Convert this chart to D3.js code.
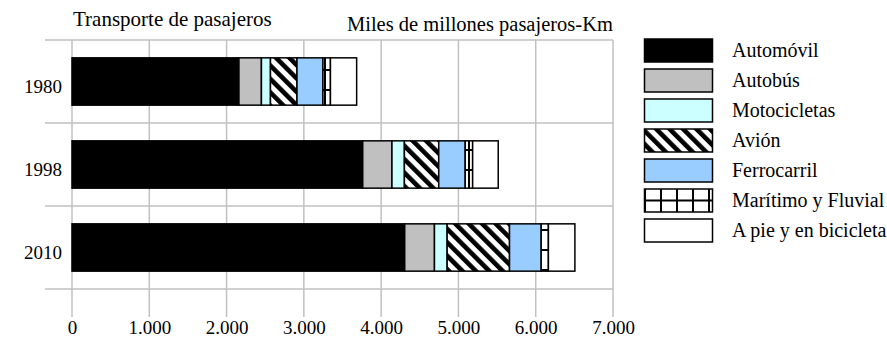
<!DOCTYPE html>
<html>
<head>
<meta charset="utf-8">
<script src="https://cdn.jsdelivr.net/npm/d3@7"></script>
<style>
  html, body { margin: 0; padding: 0; background: #fff; }
  svg { display: block; }
  text { font-family: "Liberation Serif", "Times New Roman", serif; fill: #000; }
</style>
</head>
<body>
<div id="chart"></div>
<script>
// ---- data ----
const years = ["1980", "1998", "2010"];
const seriesNames = ["Automóvil", "Autobús", "Motocicletas", "Avión", "Ferrocarril", "Marítimo y Fluvial", "A pie y en bicicleta"];
const automovil = [2160, 3762, 4305];
const autobus   = [291, 378, 385];
const motos     = [117, 161, 164];
const avion     = [343, 444, 807];
const ferro     = [336, 343, 410];
const maritimo  = [97, 96, 93];
const apie      = [339, 331, 343];
const xTicks = [0, 1000, 2000, 3000, 4000, 5000, 6000, 7000];
const title = "Transporte de pasajeros";
const unitLabel = "Miles de millones pasajeros-Km";

const seriesValues = [automovil, autobus, motos, avion, ferro, maritimo, apie];
const fills = ["#000000", "#c0c0c0", "#ccffff", "url(#pAvion)", "#99ccff", "url(#pMar)", "#ffffff"];

const W = 887, H = 341;
const svg = d3.select("#chart").append("svg").attr("width", W).attr("height", H);

// patterns
const defs = svg.append("defs");
const pa = defs.append("pattern").attr("id", "pAvion").attr("patternUnits", "userSpaceOnUse")
  .attr("width", 9.5).attr("height", 9.5).attr("patternTransform", "rotate(-45)");
pa.append("rect").attr("width", 9.5).attr("height", 9.5).attr("fill", "#fff");
pa.append("rect").attr("width", 4.6).attr("height", 9.5).attr("fill", "#000");

const pm = defs.append("pattern").attr("id", "pMar").attr("patternUnits", "userSpaceOnUse")
  .attr("width", 16).attr("height", 20);
pm.append("rect").attr("width", 16).attr("height", 20).attr("fill", "#fff");
pm.append("rect").attr("x", 4).attr("y", 0).attr("width", 2).attr("height", 20).attr("fill", "#000");
pm.append("rect").attr("x", 0).attr("y", 9).attr("width", 16).attr("height", 2).attr("fill", "#000");

const pml = defs.append("pattern").attr("id", "pMarLeg").attr("patternUnits", "userSpaceOnUse")
  .attr("width", 16).attr("height", 30);
pml.append("rect").attr("width", 16).attr("height", 30).attr("fill", "#fff");
pml.append("rect").attr("x", 4).attr("y", 0).attr("width", 2).attr("height", 30).attr("fill", "#000");
pml.append("rect").attr("x", 0).attr("y", 19.5).attr("width", 16).attr("height", 2).attr("fill", "#000");

// scales
const x = d3.scaleLinear().domain([0, 7000]).range([72, 613]);
const y = d3.scaleBand().domain(years).range([40, 289]).paddingInner(0.43).paddingOuter(0.215);
const loc = d3.formatLocale({decimal: ",", thousands: ".", grouping: [3], currency: ["", "€"]});
const fmt = loc.format(",d");

// gridlines
const grid = svg.append("g");
xTicks.forEach(t => {
  grid.append("line").attr("x1", x(t)).attr("x2", x(t)).attr("y1", 40).attr("y2", 317)
    .attr("stroke", "#c0c0c0").attr("stroke-width", 1.5);
});
const bounds = years.map(yr => y(yr) - y.step() * y.paddingInner() / 2).concat([289]);
bounds.forEach(b => {
  grid.append("line").attr("x1", 45).attr("x2", x(7000)).attr("y1", b).attr("y2", b)
    .attr("stroke", "#c0c0c0").attr("stroke-width", 1.5);
});

// x axis labels (via d3 axis)
const xAxis = svg.append("g").attr("transform", "translate(0,289)")
  .call(d3.axisBottom(x).tickValues(xTicks).tickFormat(fmt).tickSize(0).tickPadding(32));
xAxis.select(".domain").remove();
xAxis.selectAll("text").style("font-family", "Liberation Serif").style("font-size", "19px").attr("fill", "#000");

// y axis labels
const yAxis = svg.append("g").attr("transform", "translate(62,0)")
  .call(d3.axisLeft(y).tickSize(0).tickPadding(0));
yAxis.select(".domain").remove();
yAxis.selectAll("text").style("font-family", "Liberation Serif").style("font-size", "19px").attr("fill", "#000").attr("dy", "0.6em");

// stacked bars
const table = years.map((yr, i) => {
  const o = {year: yr};
  seriesNames.forEach((s, j) => o[s] = seriesValues[j][i]);
  return o;
});
const stacked = d3.stack().keys(seriesNames)(table);
stacked.forEach((layer, j) => {
  svg.append("g").selectAll("rect").data(layer).join("rect")
    .attr("x", d => x(d[0]))
    .attr("width", d => x(d[1]) - x(d[0]))
    .attr("y", d => y(d.data.year))
    .attr("height", y.bandwidth())
    .attr("fill", fills[j])
    .attr("stroke", "#000").attr("stroke-width", 1.5);
});

// titles
svg.append("text").attr("x", 73).attr("y", 26).style("font-size", "21px").text(title);
svg.append("text").attr("x", 347).attr("y", 31).style("font-size", "20.5px").text(unitLabel);

// legend
const legFills = fills.map(f => f === "url(#pMar)" ? "url(#pMarLeg)" : f);
const leg = svg.append("g");
seriesNames.forEach((s, j) => {
  const yy = 39 + j * 30;
  leg.append("rect").attr("x", 644.5).attr("y", yy).attr("width", 68).attr("height", 23)
    .attr("fill", legFills[j]).attr("stroke", "#000").attr("stroke-width", 1.5);
  leg.append("text").attr("x", 732).attr("y", yy + 18).style("font-size", "20px").text(s);
});
</script>
</body>
</html>
